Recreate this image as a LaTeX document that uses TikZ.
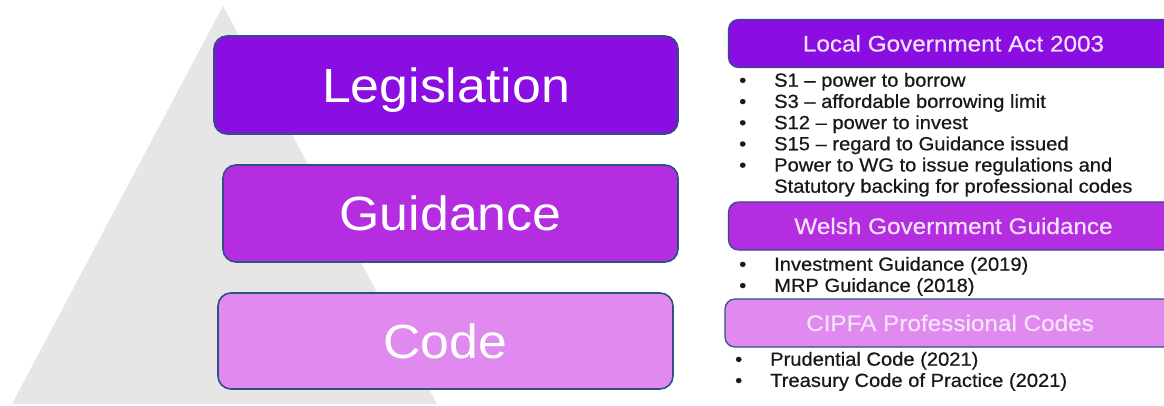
\documentclass[tikz,border=0pt]{standalone}
\usepackage{fontspec}
\setmainfont{Liberation Sans}[FakeStretch=1.08]
\newfontfamily\listfont{Liberation Sans}[FakeStretch=1.06,FakeBold=0.7]
\newfontfamily\headfont{Liberation Sans}[FakeStretch=1.08,FakeBold=0.4]
\definecolor{legis}{RGB}{138,14,226}
\definecolor{guid}{RGB}{181,45,224}
\definecolor{codec}{RGB}{224,138,240}
\definecolor{edge}{RGB}{47,80,130}
\definecolor{pyramid}{RGB}{231,229,229}
\definecolor{headtext}{RGB}{246,226,250}
\definecolor{listtext}{RGB}{25,25,25}
\begin{document}
\begin{tikzpicture}[
		x=1pt, y=-1pt,
		tier/.style={draw=edge, line width=1.6pt, rounded corners=13pt, text=white, inner sep=0pt,
				font=\fontsize{48}{48}\selectfont, text height=34.5pt, text depth=0pt},
		header/.style={draw=edge, line width=1.2pt, rounded corners=10pt, text=headtext, inner sep=0pt,
				font=\headfont\fontsize{22.5}{22.5}\selectfont, text height=16pt, text depth=0pt,
				minimum width=450pt, minimum height=48pt},
		points/.style={anchor=base west, inner sep=0pt, text=listtext,
				font=\listfont\fontsize{19}{21.2}\selectfont}
	]
	\useasboundingbox (0,0) rectangle (1164,406);
	\clip (0,0) rectangle (1164,406);
	% pyramid behind the tiers
	\fill[pyramid] (223,6) -- (437,404) -- (12,404) -- cycle;
	% tiers
	\node[tier, fill=legis, minimum width=464pt, minimum height=98pt] (legislation) at (446,85) {Legislation};
	\node[tier, fill=guid, minimum width=455pt, minimum height=97pt] (guidance) at (450.5,213.5) {Guidance};
	\node[tier, fill=codec, minimum width=455pt, minimum height=96pt] (code) at (445.5,341) {Code};
	% headers and their points
	\node[header, fill=legis] (act) at (953.5,43.5) {Local Government Act 2003};
	\node[points] (actpoints) at (739,86.7) {\begin{tabular}[t]{@{}p{35pt}@{}l@{}}
			• & S1 – power to borrow\\
			• & S3 – affordable borrowing limit\\
			• & S12 – power to invest\\
			• & S15 – regard to Guidance issued\\
			• & Power to WG to issue regulations and\\
			  & Statutory backing for professional codes
		\end{tabular}};
	\node[header, fill=guid] (wg) at (953.5,226) {Welsh Government Guidance};
	\node[points] (wgpoints) at (739,270.7) {\begin{tabular}[t]{@{}p{35pt}@{}l@{}}
			• & Investment Guidance (2019)\\
			• & MRP Guidance (2018)
		\end{tabular}};
	\node[header, fill=codec] (cipfa) at (950,323) {CIPFA Professional Codes};
	\node[points] (cipfapoints) at (735,365.7) {\begin{tabular}[t]{@{}p{35pt}@{}l@{}}
			• & Prudential Code (2021)\\
			• & Treasury Code of Practice (2021)
		\end{tabular}};
\end{tikzpicture}
\end{document}
